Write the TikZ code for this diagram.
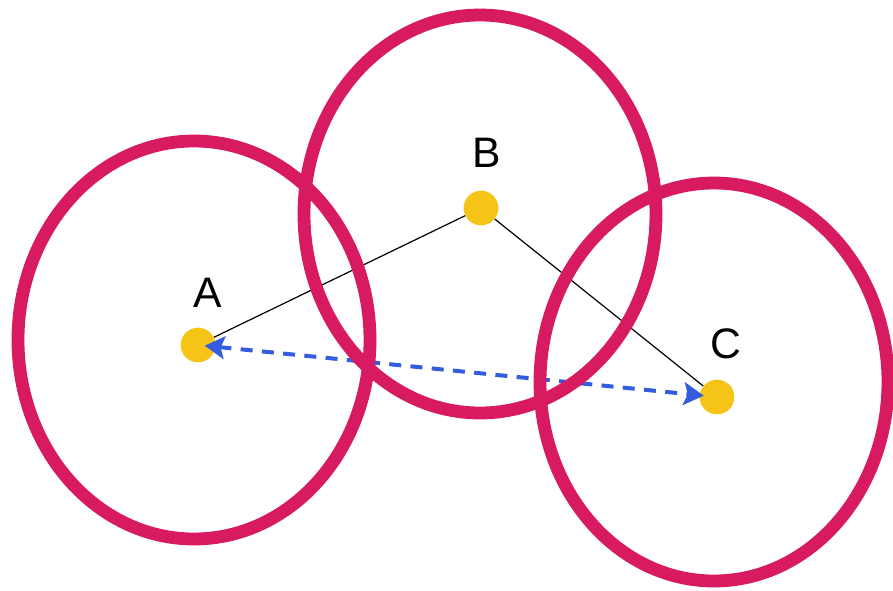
\documentclass[tikz,border=0pt]{standalone}
\usepackage{fontspec}
\setmainfont{Liberation Sans}
\usetikzlibrary{arrows.meta}
\definecolor{ringred}{RGB}{216,27,96}
\definecolor{dotyellow}{RGB}{246,196,22}
\definecolor{arrowblue}{RGB}{52,92,222}
\begin{document}
\begin{tikzpicture}[x=0.75pt,y=-0.75pt,
  ring/.style={draw=ringred,line width=9.6pt},
  dot/.style={circle,fill=dotyellow,inner sep=0pt,minimum size=26pt},
  lbl/.style={inner sep=0pt,font=\fontsize{32}{36}\selectfont},
  link/.style={draw=black,line width=0.9pt},
  distarrow/.style={draw=arrowblue,line width=3pt,dash pattern=on 9pt off 7pt,
    {Stealth[length=15pt,width=17pt,inset=3pt]}-{Stealth[length=15pt,width=17pt,inset=3pt]}}]
\useasboundingbox (0,0) rectangle (893,590);
\fill[white] (0,0) rectangle (893,590);
% dots
\node[dot] (A) at (198,345) {};
\node[dot] (B) at (481,208) {};
\node[dot] (C) at (717,397) {};
% labels
\node[lbl] (lA) at (208,293) {A};
\node[lbl] (lB) at (487,153) {B};
\node[lbl] (lC) at (726,344) {C};
% connectors
\draw[link] (A) -- (B);
\draw[link] (B) -- (C);
\draw[distarrow,shorten <=5pt,shorten >=10pt] (A.center) -- (C.center);
% rings
\draw[ring] (194,340) ellipse [x radius=176,y radius=199];
\draw[ring] (480,214) ellipse [x radius=176,y radius=199];
\draw[ring] (714,382) ellipse [x radius=174,y radius=199];
\end{tikzpicture}
\end{document}
